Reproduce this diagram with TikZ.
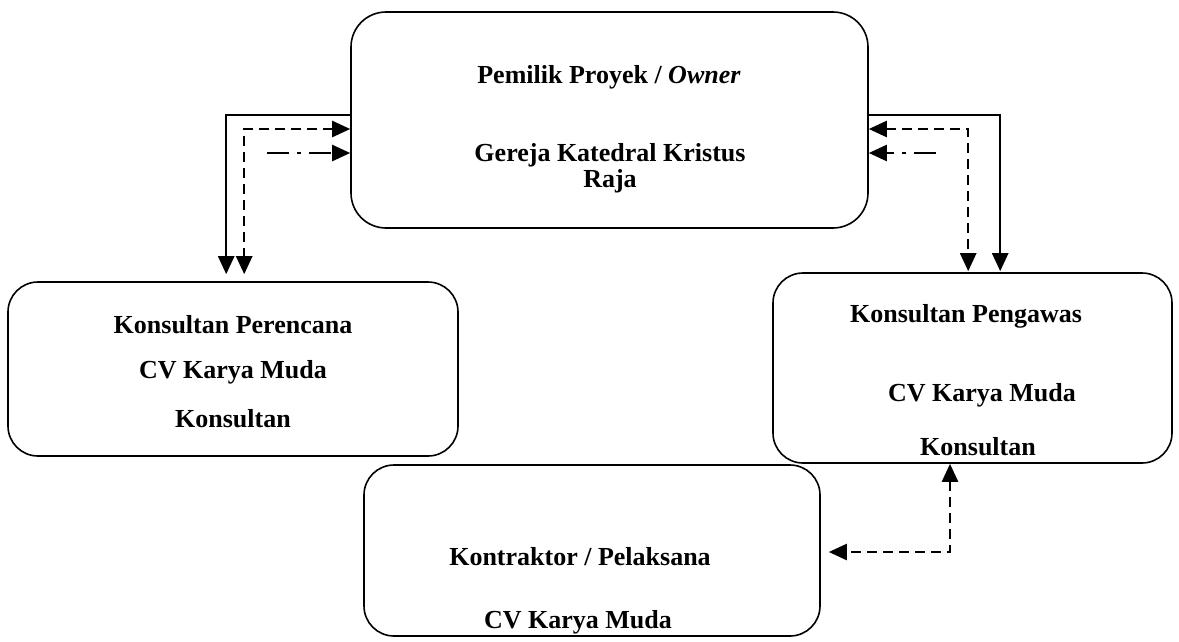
\documentclass[tikz,border=0pt]{standalone}
\usepackage{fontspec}
\setmainfont{Liberation Serif}
\usetikzlibrary{arrows.meta,calc}
\begin{document}
\begin{tikzpicture}[x=1pt,y=-1pt,
  box/.style={draw,line width=1.6pt,rounded corners=30pt,minimum width=#1,inner sep=0pt},
  lbl/.style={font=\fontsize{26}{30}\selectfont\bfseries,inner sep=0pt},
  tip/.tip={Triangle[length=18pt,width=16pt]},
  conn/.style={line width=2.4pt,-tip},
  dsh/.style={line width=2.4pt,tip-tip,dash pattern=on 10pt off 6pt},
  dd/.style={conn,dash pattern=on 22pt off 8pt on 4pt off 8pt}]
\useasboundingbox (0,0) rectangle (1179,641);
\node[box=517pt,minimum height=216pt,rounded corners=35pt] (top) at (609.5,120) {};
\node[box=450pt,minimum height=174pt] (lbox) at (233,369) {};
\node[box=399pt,minimum height=190pt] (rbox) at (972.5,368) {};
\node[box=456pt,minimum height=171pt] (bbox) at (592,550.5) {};
% texts
\node[lbl] (t1) at (609,77) {Pemilik Proyek / \textit{Owner}};
\node[lbl] (t2) at (610,155) {Gereja Katedral Kristus};
\node[lbl] (t3) at (610,181) {Raja};
\node[lbl] (l1) at (233,325) {Konsultan Perencana};
\node[lbl] (l2) at (233,372) {CV Karya Muda};
\node[lbl] (l3) at (233,419) {Konsultan};
\node[lbl] (r1) at (966,316) {Konsultan Pengawas};
\node[lbl] (r2) at (982,395) {CV Karya Muda};
\node[lbl] (r3) at (978,447) {Konsultan};
\node[lbl] (b1) at (580,557) {Kontraktor / Pelaksana};
\node[lbl] (b2) at (578,622) {CV Karya Muda};
% coordinates
\coordinate (ldd) at (267,153);
\coordinate (rdd) at (936,153);
\coordinate (bc) at (950,552);
% left connectors
\draw[conn] ([yshift=5pt]top.west) -| ([xshift=219pt,yshift=7pt]lbox.north west);
\draw[dsh] ([yshift=-9pt]top.west) -| ([xshift=237pt,yshift=7pt]lbox.north west);
\draw[dd] (ldd) -- (top.west |- ldd);
% right connectors
\draw[conn] ([yshift=5pt]top.east) -| ([xshift=228pt,yshift=1pt]rbox.north west);
\draw[dsh] ([yshift=-9pt]top.east) -| ([xshift=196pt,yshift=1pt]rbox.north west);
\draw[dd] (rdd) -- (top.east |- rdd);
% bottom connector
\draw[dsh] (rbox.south west -| bc) -- (bc) -- ([xshift=8pt]bbox.east |- bc);
\end{tikzpicture}
\end{document}
